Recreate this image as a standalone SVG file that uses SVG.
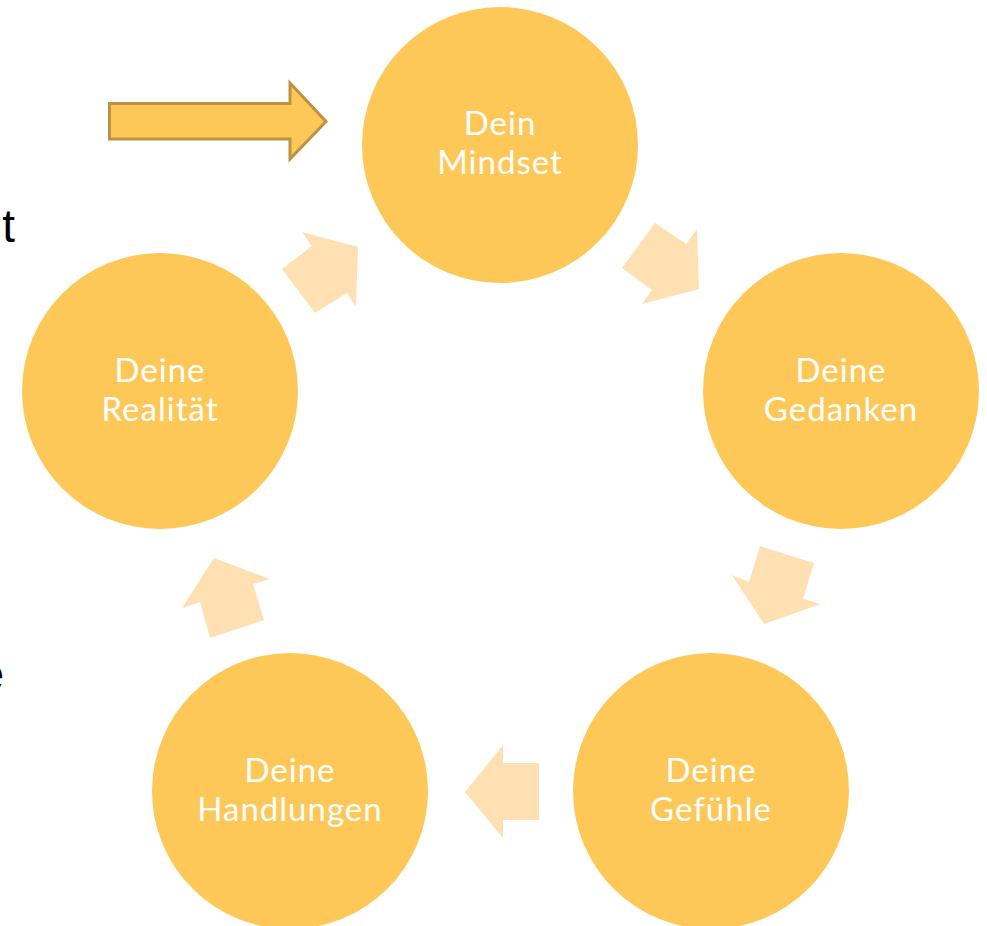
<svg xmlns="http://www.w3.org/2000/svg" width="987" height="926" viewBox="0 0 987 926">
<style>
.c{fill:#FEC859}
.t{fill:#FFFFFF;font-family:Lato,"Open Sans",sans-serif;font-size:33px;text-anchor:middle;letter-spacing:1px}
.a{fill:#FFE0B3}
.side{fill:#000000;font-family:"Liberation Sans",Arial,sans-serif;font-size:46px}
</style>
<rect width="987" height="926" fill="#FFFFFF"/>
<text class="side" x="15" y="242" text-anchor="end">t</text>
<text class="side" x="4" y="690" text-anchor="end">e</text>
<g id="start-arrow">
<polygon points="109.5,103.5 290,103.5 290,83 326,121.5 290,159 290,139 109.5,139" fill="#FEC859" stroke="#BF9140" stroke-width="3" stroke-linejoin="miter"/>
</g>
<g id="connectors">
<polygon class="a" points="655,223 686,244 697,229 699,289 642,304 652,290 622,268"/>
<polygon class="a" points="760,546 814,563 803,599 821,604 764,624 732,575 749,582"/>
<polygon class="a" points="503,745 503,763 539,763 539,820 503,820 503,838 465,792"/>
<polygon class="a" points="214,558 270,579 253,584 264,620 210,638 200,602 182,608"/>
<polygon class="a" points="282,269 312,246 302,232 358,247 356,307 347,293 315,313"/>
</g>
<g id="mindset">
<circle class="c" cx="500" cy="145" r="138"/>
<text class="t" x="500" y="135">Dein</text>
<text class="t" x="500" y="174">Mindset</text>
</g>
<g id="gedanken">
<circle class="c" cx="841" cy="391" r="138"/>
<text class="t" x="841" y="382">Deine</text>
<text class="t" x="841" y="421">Gedanken</text>
</g>
<g id="gefuehle">
<circle class="c" cx="711" cy="791" r="138"/>
<text class="t" x="711" y="782">Deine</text>
<text class="t" x="711" y="821">Gefühle</text>
</g>
<g id="handlungen">
<circle class="c" cx="290" cy="791" r="138"/>
<text class="t" x="290" y="782">Deine</text>
<text class="t" x="290" y="821">Handlungen</text>
</g>
<g id="realitaet">
<circle class="c" cx="160" cy="391" r="138"/>
<text class="t" x="160" y="382">Deine</text>
<text class="t" x="160" y="421">Realität</text>
</g>
</svg>
